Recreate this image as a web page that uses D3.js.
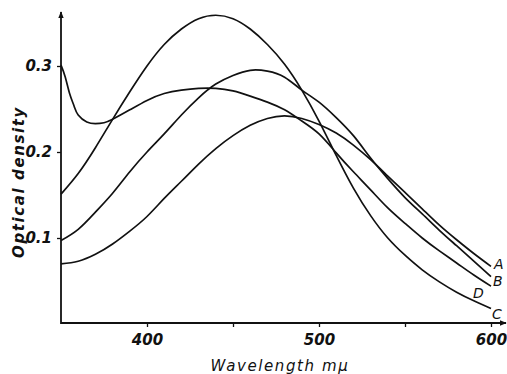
<!DOCTYPE html>
<html>
<head>
<meta charset="utf-8">
<script src="https://cdn.jsdelivr.net/npm/d3@7"></script>
<style>
  body { margin: 0; background: #fff; }
  svg { display: block; }
  text { font-family: "DejaVu Sans", sans-serif; font-style: italic; fill: #111; }
</style>
</head>
<body>
<svg id="chart" width="507" height="374"></svg>
<script>
// wavelengths (m\u03bc) shared by curves A, B, C
const wavelengths = [350, 360, 370, 380, 390, 400, 410, 420, 430, 440, 450, 460, 470,
  480, 490, 500, 510, 520, 530, 540, 550, 560, 570, 580, 590, 600];
const seriesA = [0.070, 0.073, 0.081, 0.093, 0.108, 0.125, 0.146, 0.166, 0.186, 0.204, 0.219, 0.231, 0.239,
  0.242, 0.239, 0.232, 0.222, 0.208, 0.191, 0.172, 0.153, 0.134, 0.115, 0.098, 0.082, 0.067];
const seriesB = [0.097, 0.110, 0.130, 0.152, 0.177, 0.200, 0.221, 0.243, 0.263, 0.279, 0.289, 0.295, 0.294,
  0.287, 0.272, 0.258, 0.240, 0.219, 0.193, 0.169, 0.147, 0.128, 0.109, 0.091, 0.073, 0.055];
const seriesC = [0.151, 0.175, 0.205, 0.238, 0.270, 0.300, 0.325, 0.343, 0.355, 0.359, 0.355, 0.343, 0.325,
  0.302, 0.272, 0.236, 0.196, 0.158, 0.126, 0.100, 0.080, 0.063, 0.049, 0.037, 0.027, 0.018];
// curve D drops sharply at the start, so it is sampled a bit finer there
const wavelengthsD = [350, 352.5, 355, 357.5, 360, 365, 370, 375, 380, 390, 400, 410, 420, 430, 440,
  450, 460, 470, 480, 490, 500, 510, 520, 530, 540, 550, 560, 570, 580, 590, 600];
const seriesD = [0.301, 0.287, 0.268, 0.254, 0.243, 0.235, 0.233, 0.234, 0.238, 0.249, 0.260, 0.268, 0.272, 0.274, 0.274,
  0.271, 0.265, 0.258, 0.249, 0.236, 0.221, 0.199, 0.177, 0.156, 0.135, 0.117, 0.100, 0.085, 0.071, 0.057, 0.044];

const curveNames = ['A', 'B', 'C', 'D'];
const yTicks = [0.1, 0.2, 0.3];
const xTicks = [400, 450, 500, 550, 600];
const xTickLabels = [400, 500, 600];

const curves = [
  { name: 'A', xs: wavelengths, ys: seriesA, dx: 3, dy: 3 },
  { name: 'B', xs: wavelengths, ys: seriesB, dx: 2, dy: 9 },
  { name: 'C', xs: wavelengths, ys: seriesC, dx: 1, dy: 10 },
  { name: 'D', xs: wavelengthsD, ys: seriesD, dx: -18, dy: 12 }
].filter(c => curveNames.includes(c.name));

const svg = d3.select('#chart');

const x = d3.scaleLinear().domain([350, 600]).range([61, 491]);
const y = d3.scaleLinear().domain([0, 0.3]).range([324, 66]);

const ink = '#111';

// arrow heads
const defs = svg.append('defs');
defs.append('marker')
  .attr('id', 'arrow')
  .attr('viewBox', '0 0 10 10')
  .attr('refX', 9).attr('refY', 5)
  .attr('markerWidth', 7).attr('markerHeight', 7)
  .attr('markerUnits', 'userSpaceOnUse')
  .attr('orient', 'auto')
  .append('path')
  .attr('d', 'M0,1 L10,5 L0,9 Z')
  .attr('fill', ink);

// Y axis
const yAxis = svg.append('g')
  .attr('transform', `translate(${x(350)},0)`)
  .call(d3.axisLeft(y).tickValues(yTicks).tickSize(4).tickPadding(5).tickFormat(d3.format('.1f')));
yAxis.select('.domain').remove();
yAxis.selectAll('line').attr('stroke', ink).attr('stroke-width', 1.3);
yAxis.selectAll('text')
  .attr('font-size', 15).attr('font-weight', 'bold')
  .attr('font-family', '"DejaVu Sans", sans-serif')
  .attr('font-style', 'italic')
  .attr('fill', ink);

svg.append('line')
  .attr('x1', x(350)).attr('x2', x(350))
  .attr('y1', y(0)).attr('y2', 12)
  .attr('stroke', ink).attr('stroke-width', 1.8)
  .attr('marker-end', 'url(#arrow)');

// X axis
const xAxis = svg.append('g')
  .attr('transform', `translate(0,${y(0) - 1})`)
  .call(d3.axisBottom(x).tickValues(xTicks).tickSize(4).tickPadding(7)
    .tickFormat(d => xTickLabels.includes(d) ? d : ''));
xAxis.select('.domain').remove();
xAxis.selectAll('line').attr('stroke', ink).attr('stroke-width', 1.3);
xAxis.selectAll('text')
  .attr('font-size', 15).attr('font-weight', 'bold')
  .attr('font-family', '"DejaVu Sans", sans-serif')
  .attr('font-style', 'italic')
  .attr('fill', ink);

svg.append('line')
  .attr('x1', x(350)).attr('x2', 506)
  .attr('y1', y(0) - 1).attr('y2', y(0) - 1)
  .attr('stroke', ink).attr('stroke-width', 1.8)
  .attr('marker-end', 'url(#arrow)');

// axis titles
svg.append('text')
  .attr('x', 280).attr('y', 371)
  .attr('text-anchor', 'middle')
  .attr('font-size', 15)
  .attr('letter-spacing', 1.6)
  .text('Wavelength m\u03bc');

svg.append('text')
  .attr('transform', 'translate(24,182) rotate(-90)')
  .attr('text-anchor', 'middle')
  .attr('font-size', 15)
  .attr('font-weight', 'bold')
  .attr('letter-spacing', 1.6)
  .text('Optical density');

// curves
const line = d3.line()
  .x(d => x(d[0]))
  .y(d => y(d[1]))
  .curve(d3.curveNatural);

svg.selectAll('.curve')
  .data(curves)
  .join('path')
  .attr('class', 'curve')
  .attr('d', c => line(c.xs.map((w, i) => [w, c.ys[i]])))
  .attr('fill', 'none')
  .attr('stroke', ink)
  .attr('stroke-width', 1.7);

// end labels
svg.selectAll('.curve-label')
  .data(curves)
  .join('text')
  .attr('class', 'curve-label')
  .attr('x', c => x(c.xs[c.xs.length - 1]) + c.dx)
  .attr('y', c => y(c.ys[c.ys.length - 1]) + c.dy)
  .attr('font-size', 14)
  .text(c => c.name);
</script>
</body>
</html>
